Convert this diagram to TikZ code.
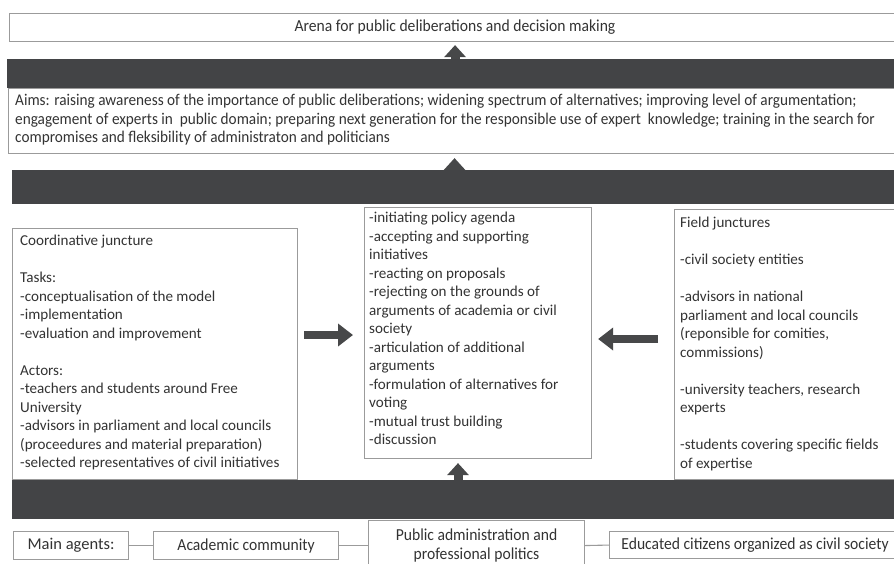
\documentclass[tikz,border=0pt]{standalone}
\usepackage{fontspec}
\setmainfont{Carlito}
\newfontfamily\condfont[FakeStretch=0.93]{Carlito}
\usetikzlibrary{arrows.meta,calc}
\definecolor{txt}{HTML}{333333}
\definecolor{edge}{HTML}{9B9B9B}
\definecolor{barc}{HTML}{434446}
\definecolor{arr}{HTML}{474849}
\begin{document}
\begin{tikzpicture}[x=1pt,y=-1pt,
  box/.style={draw=edge, line width=1.1pt, fill=white, inner sep=0pt, anchor=north west, text=txt},
  bar/.style={fill=barc, draw=none, inner sep=0pt, anchor=north west},
  txtblk/.style={anchor=north west, inner sep=0pt, align=left, text=txt, font=\fontsize{15.1}{18.5}\selectfont},
  condA/.style={font=\condfont\fontsize{16.8}{18.5}\selectfont},
  condB/.style={font=\condfont\fontsize{16.4}{18.5}\selectfont},
  fat/.style={draw=arr, line width=8pt, -{Triangle[width=22pt,length=15pt]}},
  fatv/.style={draw=arr, line width=9pt, -{Triangle[width=21pt,length=12pt]}},
  conn/.style={draw=edge, line width=1.1pt}]
\useasboundingbox (0,0) rectangle (894,563);
\clip (0,0) rectangle (894,563);
% top
\node[box, condA, minimum width=891pt, minimum height=28pt] (arena) at (9,13) {Arena for public deliberations and decision making};
\node[bar, minimum width=890pt, minimum height=29pt] (bar1) at (7,59) {};
\node[box, minimum width=892pt, minimum height=65pt] (aims) at (8,88) {};
\node[txtblk, condB] (aimstxt) at (15,94) {Aims: raising awareness of the importance of public deliberations; widening spectrum of alternatives; improving level of argumentation;\\
engagement of experts in\ \ public domain; preparing next generation for the responsible use of expert\ \ knowledge; training in the search for\\
compromises and fleksibility of administraton and politicians};
\node[bar, minimum width=885pt, minimum height=34pt] (bar2) at (12,170) {};
% middle row
\node[box, minimum width=227pt, minimum height=251pt] (mid) at (364,207) {};
\node[box, minimum width=285pt, minimum height=251pt] (left) at (12,228) {};
\node[box, minimum width=230pt, minimum height=270pt] (right) at (674,209) {};
\node[txtblk] (lefttxt) at (20,235) {Coordinative juncture\\[18.5pt]
Tasks:\\
-conceptualisation of the model\\
-implementation\\
-evaluation and improvement\\[18.5pt]
Actors:\\
-teachers and students around Free\\
University\\
-advisors in parliament and local councils\\
(proceedures and material preparation)\\
-selected representatives of civil initiatives};
\node[txtblk] (midtxt) at (369,212) {-initiating policy agenda\\
-accepting and supporting\\
initiatives\\
-reacting on proposals\\
-rejecting on the grounds of\\
arguments of academia or civil\\
society\\
-articulation of additional\\
arguments\\
-formulation of alternatives for\\
voting\\
-mutual trust building\\
-discussion};
\node[txtblk] (righttxt) at (680,217) {Field junctures\\[18.5pt]
-civil society entities\\[18.5pt]
-advisors in national\\
parliament and local councils\\
(reponsible for comities,\\
commissions)\\[18.5pt]
-university teachers, research\\
experts\\[18.5pt]
-students covering specific fields\\
of expertise};
\node[bar, minimum width=885pt, minimum height=39pt] (bar3) at (12,480) {};
% bottom row
\node[box, font=\fontsize{16.5}{18}\selectfont, minimum width=115pt, minimum height=28pt] (main) at (13,531) {Main agents:};
\node[box, condA, minimum width=185pt, minimum height=28pt] (acad) at (153,531) {Academic community};
\node[box, condA, align=center, minimum width=216pt, minimum height=50pt] (pub) at (368,520) {Public administration and\\professional politics};
\node[box, condA, minimum width=291pt, minimum height=27pt] (edu) at (609,531) {Educated citizens organized as civil society};
\draw[conn] (main.east) -- (acad.west);
\draw[conn] (acad.east) -- (pub.west);
\draw[conn] (pub.east) -- (edu.west);
% arrows
\draw[fatv, shorten >=3pt] (arena.south |- bar1.north) -- (arena.south);
\draw[fatv, shorten >=4pt] (aims.south |- bar2.north) -- (aims.south);
\coordinate (a3) at (458,480);
\draw[fatv, shorten >=4pt] (a3) -- (a3 |- mid.south);
\coordinate (ra) at (0,335);
\draw[fat, shorten <=6pt, shorten >=11pt] (left.east |- ra) -- (mid.west |- ra);
\coordinate (la) at (0,339);
\draw[fat, shorten <=16pt, shorten >=6pt] (right.west |- la) -- (mid.east |- la);
\end{tikzpicture}
\end{document}
